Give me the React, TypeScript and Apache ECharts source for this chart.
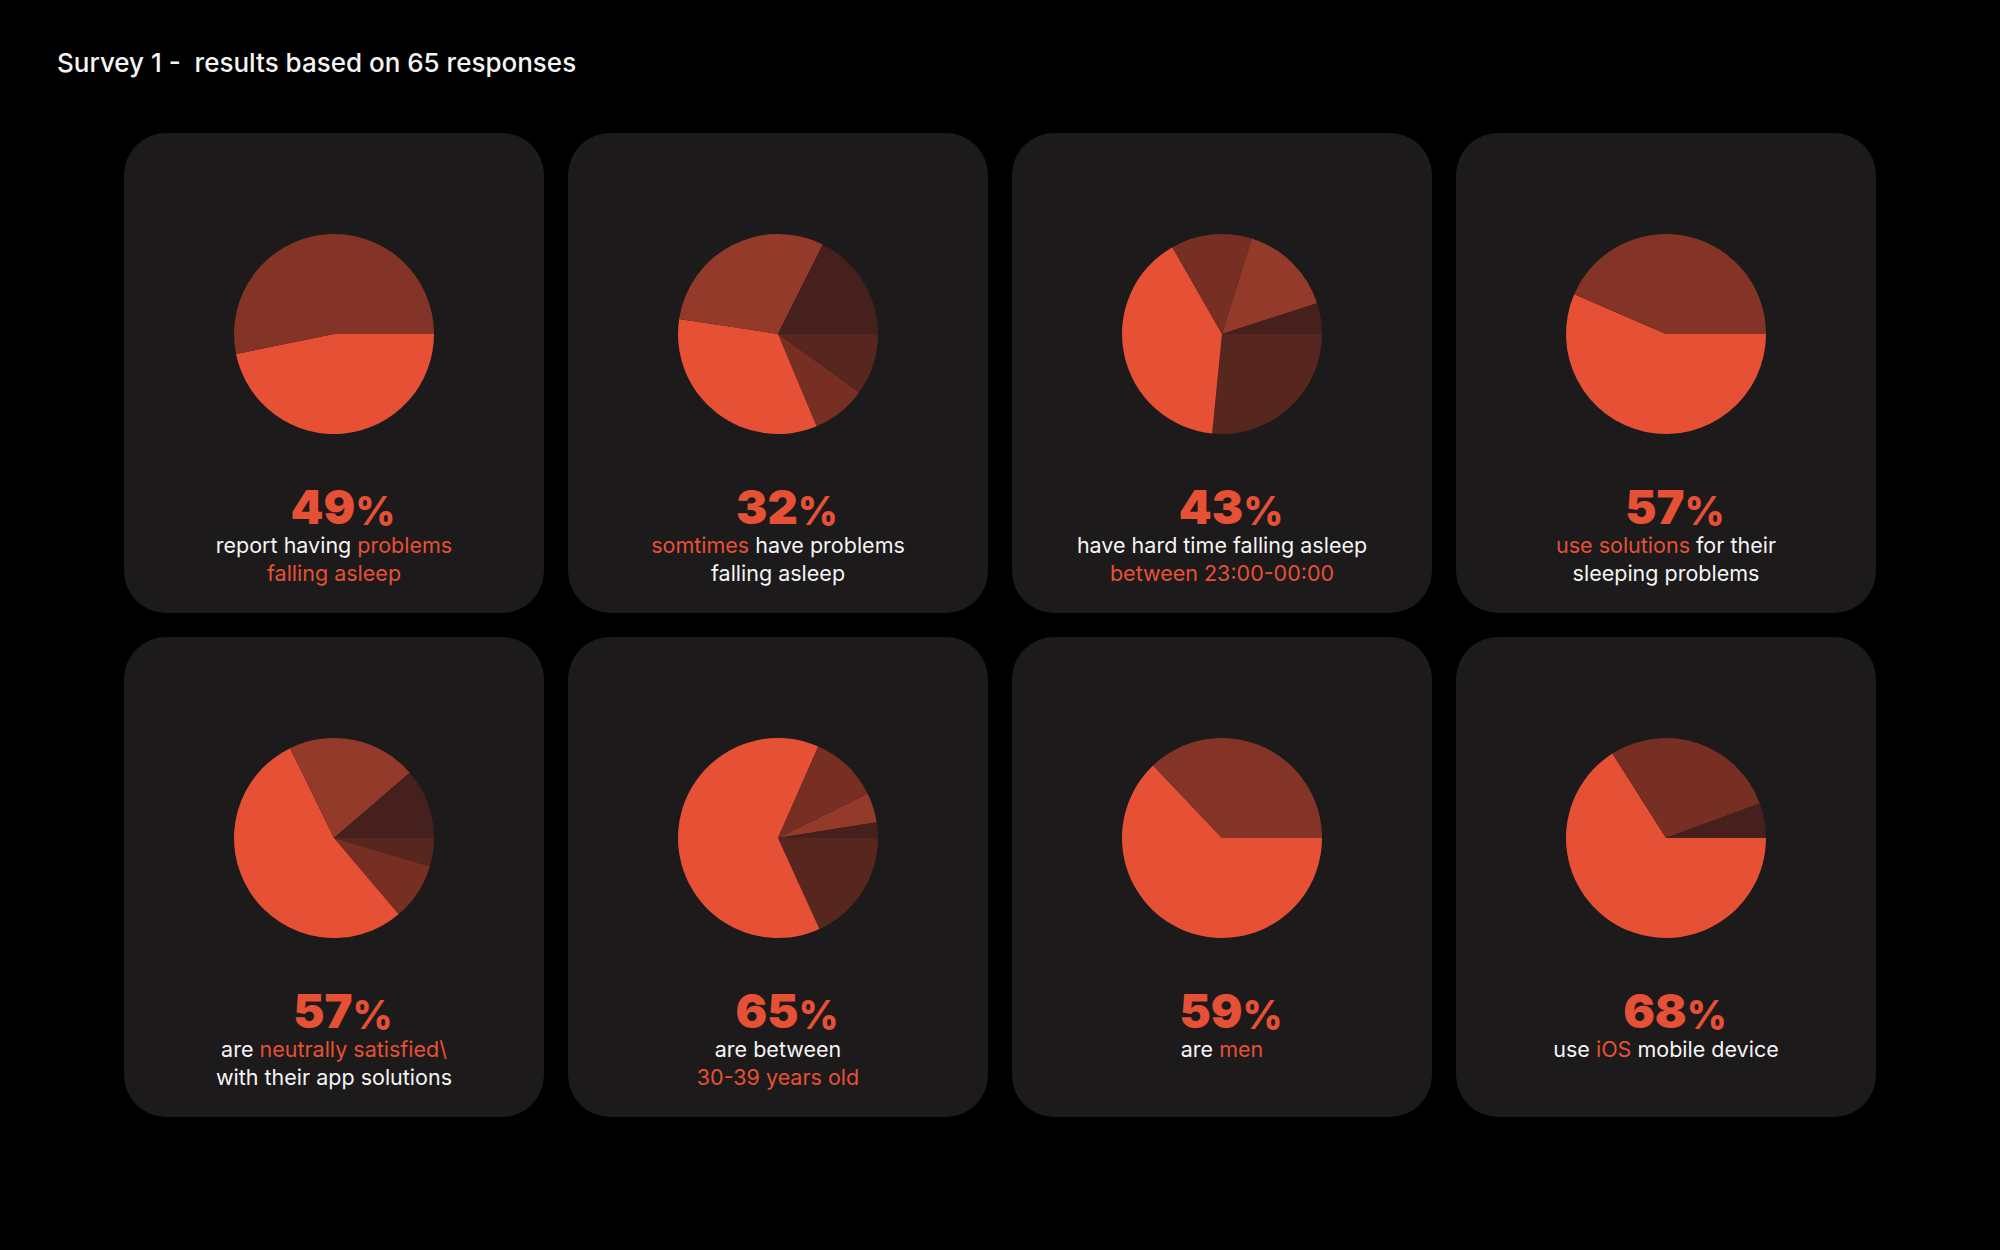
import React, { useEffect, useRef } from "react";
import * as echarts from "echarts";

// ---------- DATA ----------
const titleText = "Survey 1 -  results based on 65 responses";
const headlines = [49, 32, 43, 57, 57, 65, 59, 68];

const names1 = ["Have problems", "No problems"];
const slices1 = [46.8, 53.2];
const names2 = ["Rarely", "Seldom", "Sometimes", "Often", "Never"];
const slices2 = [9.9, 8.8, 33.7, 30.0, 17.6];
const names3 = ["After 00:00", "23:00-00:00", "22:00-23:00", "21:00-22:00", "Before 21:00"];
const slices3 = [26.6, 40.2, 13.1, 15.2, 5.0];
const names4 = ["Use solutions", "No solutions"];
const slices4 = [56.5, 43.5];
const names5 = ["Very unsatisfied", "Unsatisfied", "Neutral", "Satisfied", "Very satisfied"];
const slices5 = [4.6, 9.2, 53.9, 20.9, 11.3];
const names6 = ["40-49", "30-39", "20-29", "50+", "<20"];
const slices6 = [18.2, 63.4, 11.1, 4.8, 2.5];
const names7 = ["Men", "Women"];
const slices7 = [62.9, 37.1];
const names8 = ["iOS", "Android", "Other"];
const slices8 = [66.0, 28.4, 5.6];

// caption segments: [tone, text]; tone "w" = white, "o" = orange
const captions: [string, string][][][] = [
  [[["w", "report having "], ["o", "problems"]], [["o", "falling asleep"]]],
  [[["o", "somtimes"], ["w", " have problems"]], [["w", "falling asleep"]]],
  [[["w", "have hard time falling asleep"]], [["o", "between 23:00-00:00"]]],
  [[["o", "use solutions"], ["w", " for their"]], [["w", "sleeping problems"]]],
  [[["w", "are "], ["o", "neutrally satisfied\\"]], [["w", "with their app solutions"]]],
  [[["w", "are between"]], [["o", "30-39 years old"]]],
  [[["w", "are "], ["o", "men"]]],
  [[["w", "use "], ["o", "iOS"], ["w", " mobile device"]]],
];

// ---------- STYLE ----------
const ORANGE = "#E65135";
const BROWN = "#843427";
const REDBROWN = "#943A2A";
const BROWN2 = "#772E23";
const DARK2 = "#56261F";
const DARKEST = "#45201C";
const CARD = "#1C1A1B";
const WHITE = "#F4F4F4";

const colors1 = [ORANGE, BROWN];
const colors2 = [DARK2, BROWN2, ORANGE, REDBROWN, DARKEST];
const colors3 = [DARK2, ORANGE, BROWN2, REDBROWN, DARKEST];
const colors4 = [ORANGE, BROWN];
const colors5 = [DARK2, BROWN2, ORANGE, REDBROWN, DARKEST];
const colors6 = [DARK2, ORANGE, BROWN2, REDBROWN, DARKEST];
const colors7 = [ORANGE, BROWN];
const colors8 = [ORANGE, BROWN2, DARKEST];

const allSlices = [slices1, slices2, slices3, slices4, slices5, slices6, slices7, slices8];
const allNames = [names1, names2, names3, names4, names5, names6, names7, names8];
const allColors = [colors1, colors2, colors3, colors4, colors5, colors6, colors7, colors8];

const FONT = "Inter, 'Noto Sans', sans-serif";
const CARD_W = 420;
const CARD_H = 480;
const CARD_X0 = 124;
const CARD_Y0 = 133;
const STEP_X = 444;
const STEP_Y = 504;

export default function App() {
  const ref = useRef<HTMLDivElement>(null);

  useEffect(() => {
    if (!ref.current) return;
    const chart = echarts.init(ref.current, undefined, { renderer: "svg" });

    const graphics: any[] = [];
    graphics.push({
      type: "text",
      x: 57,
      y: 62,
      z: 20,
      silent: true,
      style: {
        text: titleText,
        fill: WHITE,
        fontFamily: FONT,
        fontSize: 26,
        fontWeight: 500,
        align: "left",
        verticalAlign: "middle",
      },
    });

    const series: any[] = [];
    for (let i = 0; i < 8; i++) {
      const col = i % 4;
      const row = Math.floor(i / 4);
      const x0 = CARD_X0 + STEP_X * col;
      const y0 = CARD_Y0 + STEP_Y * row;
      const cx = x0 + CARD_W / 2;

      graphics.push({
        type: "rect",
        z: 0,
        silent: true,
        shape: { x: x0, y: y0, width: CARD_W, height: CARD_H, r: 42 },
        style: { fill: CARD },
      });

      graphics.push({
        type: "text",
        x: cx + 9,
        y: y0 + 397,
        z: 20,
        silent: true,
        style: {
          text: `{n|${headlines[i]}}{p|%}`,
          align: "center",
          verticalAlign: "bottom",
          rich: {
            n: { fill: ORANGE, fontFamily: FONT, fontSize: 47, fontWeight: 900, lineHeight: 52, verticalAlign: "bottom" },
            p: { fill: ORANGE, fontFamily: FONT, fontSize: 39, fontWeight: 800, lineHeight: 52, verticalAlign: "bottom" },
          },
        },
      });

      captions[i].forEach((line, li) => {
        const txt = line.map(([tone, t]) => `{${tone}|${t}}`).join("");
        graphics.push({
          type: "text",
          x: cx,
          y: y0 + 412 + li * 28,
          z: 20,
          silent: true,
          style: {
            text: txt,
            align: "center",
            verticalAlign: "middle",
            rich: {
              w: { fill: WHITE, fontFamily: FONT, fontSize: 21.5, fontWeight: 400 },
              o: { fill: ORANGE, fontFamily: FONT, fontSize: 21.5, fontWeight: 400 },
            },
          },
        });
      });

      series.push({
        type: "pie",
        center: [cx, y0 + 201],
        radius: [0, 100],
        startAngle: 0,
        clockwise: true,
        silent: true,
        z: 10,
        avoidLabelOverlap: false,
        label: { show: false },
        labelLine: { show: false },
        emphasis: { disabled: true },
        itemStyle: { borderWidth: 0 },
        data: allSlices[i].map((v, k) => ({
          value: v,
          name: allNames[i][k],
          itemStyle: { color: allColors[i][k] },
        })),
      });
    }

    chart.setOption({
      animation: false,
      backgroundColor: "#000000",
      graphic: { elements: graphics },
      series,
    });

    return () => chart.dispose();
  }, []);

  return (
    <div
      ref={ref}
      style={{ position: "fixed", left: 0, top: 0, width: 2000, height: 1250 }}
    />
  );
}
